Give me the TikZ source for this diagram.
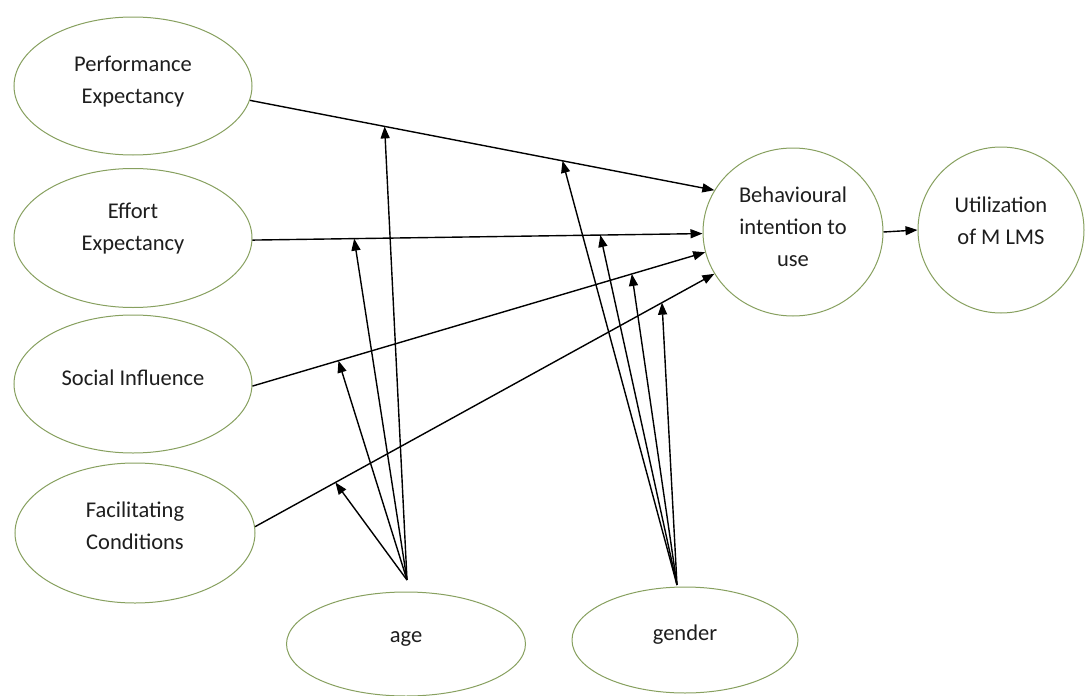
\documentclass[tikz,border=0pt]{standalone}
\usepackage{fontspec}
\setmainfont{Carlito}
\usetikzlibrary{shapes.geometric,arrows.meta}
\definecolor{ellcol}{RGB}{135,160,95}
\definecolor{txtcol}{RGB}{30,30,30}
\begin{document}
\begin{tikzpicture}[x=1pt,y=-1pt,
  ell/.style={ellipse,draw=ellcol,line width=1pt,inner sep=0pt,fill=white},
  lbl/.style={align=center,text=txtcol,font=\fontsize{22.5}{32}\selectfont},
  arr/.style={draw=black,line width=1.4pt,-{Triangle[length=12pt,width=9pt]}}]
\useasboundingbox (0,0) rectangle (1085,696);
% nodes
\node[ell,minimum width=238pt,minimum height=138pt] (PE) at (133,86) {};
\node[ell,minimum width=238pt,minimum height=139pt] (EE) at (133,238) {};
\node[ell,minimum width=238pt,minimum height=138pt] (SI) at (133,384) {};
\node[ell,minimum width=240pt,minimum height=140pt] (FC) at (135,533) {};
\node[ell,minimum width=180pt,minimum height=168pt] (BI) at (793,232) {};
\node[ell,minimum width=166pt,minimum height=166pt] (UM) at (1001,230) {};
\node[ell,minimum width=239pt,minimum height=104pt] (AG) at (406,644) {};
\node[ell,minimum width=226pt,minimum height=106pt] (GE) at (685,640) {};
% labels
\node[lbl] (PEt) at ([yshift=4pt]PE.center) {Performance\\Expectancy};
\node[lbl] (EEt) at ([yshift=9pt]EE.center) {Effort\\Expectancy};
\node[lbl] (SIt) at ([yshift=6pt]SI.center) {Social Influence};
\node[lbl] (FCt) at ([yshift=7pt]FC.center) {Facilitating\\Conditions};
\node[lbl] (BIt) at ([yshift=5pt]BI.center) {Behavioural\\intention to\\use};
\node[lbl] (UMt) at ([yshift=9pt]UM.center) {Utilization\\of M LMS};
\node[lbl] (AGt) at ([yshift=5pt]AG.center) {age};
\node[lbl] (GEt) at ([yshift=5pt]GE.center) {gender};
% apexes of moderator arrows
\coordinate (AGa) at (407,580);
\coordinate (GEa) at (677,585);
% main paths
\draw[arr] (PE.-7) -- (BI.152)
  coordinate[pos=0.29] (mPEa) coordinate[pos=0.673] (mPEg);
\draw[arr] (EE.-1.5) -- (BI.181.5)
  coordinate[pos=0.226] (mEEa) coordinate[pos=0.773] (mEEg);
\draw[arr] (SI.-1) -- (BI.193)
  coordinate[pos=0.19] (mSIa) coordinate[pos=0.838] (mSIg);
\draw[arr] (FC.3) -- (BI.208)
  coordinate[pos=0.175] (mFCa) coordinate[pos=0.886] (mFCg);
\draw[arr] (BI.east) -- (UM.west);
% age moderators
\draw[arr] (AGa) -- (mPEa);
\draw[arr] (AGa) -- (mEEa);
\draw[arr] (AGa) -- (mSIa);
\draw[arr] (AGa) -- (mFCa);
% gender moderators
\draw[arr] (GEa) -- (mPEg);
\draw[arr] (GEa) -- (mEEg);
\draw[arr] (GEa) -- (mSIg);
\draw[arr] (GEa) -- (mFCg);
\end{tikzpicture}
\end{document}
